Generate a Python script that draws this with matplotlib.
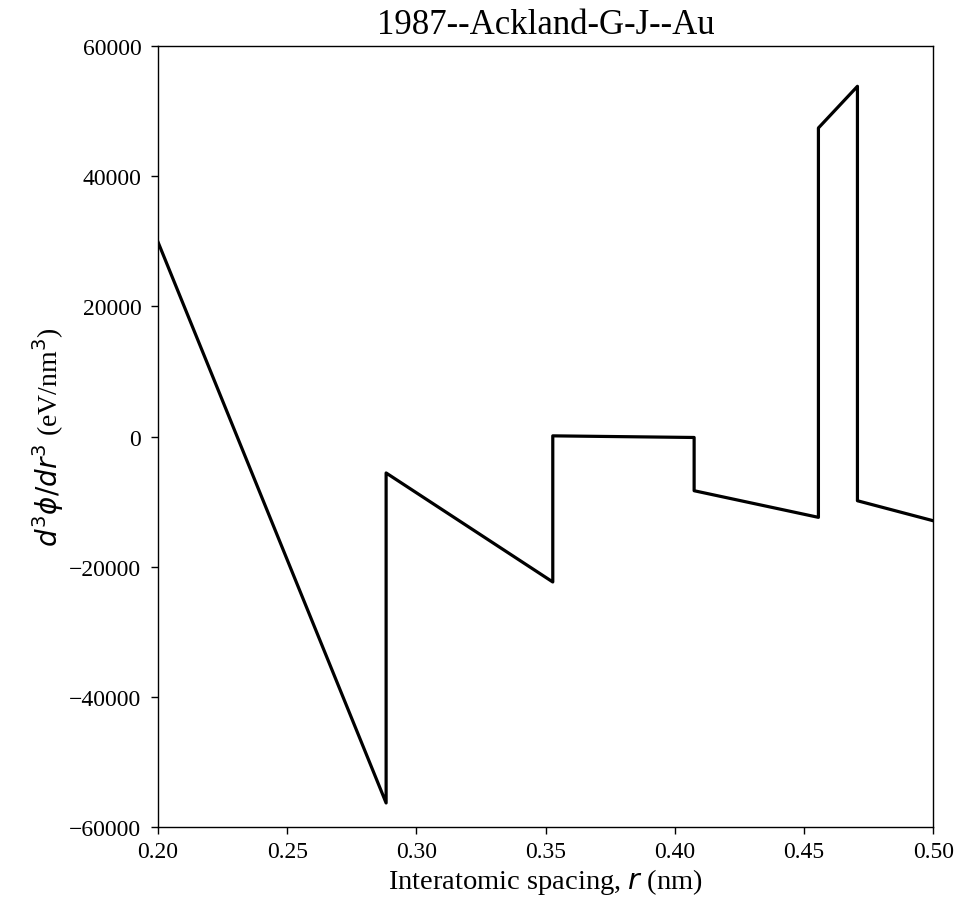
import matplotlib
matplotlib.use("Agg")
import matplotlib.pyplot as plt

r_nm = [0.2000, 0.2883, 0.2883, 0.3528, 0.3528, 0.4075, 0.4075, 0.4556, 0.4556, 0.4707, 0.4707, 0.5000]
d3phi = [29900, -56300, -5600, -22350, 100, -150, -8330, -12420, 47400, 53800, -9870, -12940]

xticks = [0.20, 0.25, 0.30, 0.35, 0.40, 0.45, 0.50]
yticks = [-60000, -40000, -20000, 0, 20000, 40000, 60000]

plt.rcParams['font.family'] = ['Liberation Serif', 'DejaVu Serif']
plt.rcParams['mathtext.fontset'] = 'dejavusans'

fig = plt.figure(figsize=(9.69, 9.03), dpi=100)
ax = fig.add_axes([0.163, 0.083, 0.800, 0.865])
ax.plot(r_nm, d3phi, color='black', linewidth=2.3)
ax.set_xlim(0.2, 0.5)
ax.set_ylim(-60000, 60000)
ax.set_xticks(xticks)
ax.set_xticklabels([f"{v:.2f}" for v in xticks])
ax.set_yticks(yticks)
ax.set_yticklabels([f"{v:d}".replace('-', '\u2212') for v in yticks])
ax.tick_params(labelsize=17, length=5, width=1.0)
ax.tick_params(axis='y', pad=7)
ax.tick_params(axis='x', pad=5)
for s in ax.spines.values():
    s.set_linewidth(1.0)
ax.set_xlabel(r"Interatomic spacing, $r$ (nm)", fontsize=20.5, labelpad=3)
ax.set_ylabel(r"$d^3\phi/dr^3$ (eV/nm$^3$)", fontsize=20, labelpad=2)
ax.set_title("1987--Ackland-G-J--Au", fontsize=25, pad=9)
fig.savefig("out.png", dpi=100)
